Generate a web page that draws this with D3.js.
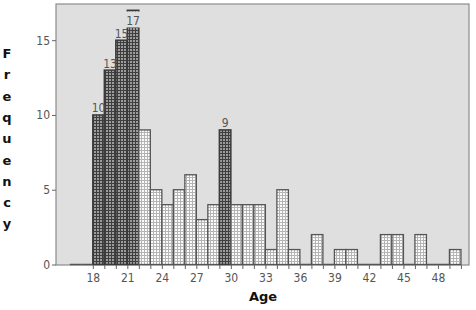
<!DOCTYPE html>
<html>
<head>
<meta charset="utf-8">
<script src="https://cdn.jsdelivr.net/npm/d3@7"></script>
<style>
  body { margin: 0; background: #fff; }
  svg { display: block; }
</style>
</head>
<body>
<div id="chart"></div>
<script>
// histogram of ages, one bin per year
var ages   = [16,17,18,19,20,21,22,23,24,25,26,27,28,29,30,31,32,33,34,35,36,37,38,39,40,41,42,43,44,45,46,47,48,49];
var counts = [ 0, 0,10,13,15,17, 9, 5, 4, 5, 6, 3, 4, 9, 4, 4, 4, 1, 5, 1, 0, 2, 0, 1, 1, 0, 0, 2, 2, 0, 2, 0, 0, 1];
var highlighted = [18,19,20,21,29];
var xTickLabels = [18,21,24,27,30,33,36,39,42,45,48];
var yTickLabels = [0,5,10,15];
var yTitle = "Frequency";
var xTitle = "Age";

var width = 476, height = 310;
var plot = {left: 56, right: 469, top: 4, bottom: 265};

var svg = d3.select("#chart").append("svg")
    .attr("width", width)
    .attr("height", height);

// hatch patterns
var defs = svg.append("defs");
function hatch(id, bg, line) {
  var p = defs.append("pattern")
      .attr("id", id)
      .attr("patternUnits", "userSpaceOnUse")
      .attr("width", 3).attr("height", 3);
  p.append("rect").attr("width", 3).attr("height", 3).attr("fill", bg);
  p.append("path").attr("d", "M0,0.5H3M0.5,0V3")
      .attr("stroke", line).attr("stroke-width", 1).attr("fill", "none");
}
hatch("darkHatch", "#9c9c9c", "#3e3e3e");
hatch("lightHatch", "#fbfbfb", "#b4b4b4");

var x = d3.scaleLinear()
    .domain([14.8, 50.7])
    .range([plot.left, plot.right]);

var y = d3.scaleLinear()
    .domain([0, 17.4])
    .range([264.5, 4.3]);

// plot background
svg.append("rect")
    .attr("x", plot.left).attr("y", plot.top)
    .attr("width", plot.right - plot.left)
    .attr("height", plot.bottom - plot.top)
    .attr("fill", "#dfdfdf")
    .attr("stroke", "#8c8c8c")
    .attr("stroke-width", 1.2);

var data = ages.map(function(a, i) { return {age: a, count: counts[i]}; });
function isHi(d) { return highlighted.indexOf(d.age) >= 0; }

// bars
svg.append("g").selectAll("rect")
  .data(data.filter(function(d) { return d.count > 0; }))
  .enter().append("rect")
    .attr("x", function(d) { return x(d.age); })
    .attr("y", function(d) { return y(d.count); })
    .attr("width", function(d) { return x(d.age + 1) - x(d.age); })
    .attr("height", function(d) { return y(0) - y(d.count); })
    .attr("fill", function(d) { return isHi(d) ? "url(#darkHatch)" : "url(#lightHatch)"; })
    .attr("stroke", function(d) { return isHi(d) ? "#3a3a3a" : "#555"; })
    .attr("stroke-width", function(d) { return isHi(d) ? 1.5 : 1.3; });

// empty bins are drawn as a flat line on the baseline
svg.append("g").selectAll("line")
  .data(data.filter(function(d) { return d.count === 0; }))
  .enter().append("line")
    .attr("x1", function(d) { return x(d.age); })
    .attr("x2", function(d) { return x(d.age + 1); })
    .attr("y1", y(0)).attr("y2", y(0))
    .attr("stroke", "#555")
    .attr("stroke-width", 1.5);

// data labels on the highlighted bars
var labelData = data.filter(isHi);
var labels = svg.append("g")
    .attr("font-family", "'DejaVu Sans Condensed', 'DejaVu Sans', sans-serif")
    .attr("font-stretch", "condensed")
    .attr("font-size", 12)
    .attr("fill", "#555");
labelData.forEach(function(d) {
  var cx = (x(d.age) + x(d.age + 1)) / 2;
  var top = y(d.count);
  if (top - 16 < plot.top) {
    // no room above: label sits inside the bar on a background box
    labels.append("rect")
        .attr("x", cx - 7.5).attr("y", top + 1.2)
        .attr("width", 15).attr("height", 16)
        .attr("fill", "#dfdfdf");
    labels.append("text")
        .attr("x", cx).attr("y", top + 14.8)
        .attr("text-anchor", "middle")
        .text(d.count);
  } else {
    labels.append("text")
        .attr("x", cx).attr("y", top - 2.5)
        .attr("text-anchor", "middle")
        .text(d.count);
  }
});

// x axis
var xAxis = svg.append("g")
    .attr("transform", "translate(0," + plot.bottom + ")")
    .call(d3.axisBottom(x)
      .tickValues(d3.range(18, 51))
      .tickSize(4)
      .tickPadding(4)
      .tickFormat(function(d) { return xTickLabels.indexOf(d) >= 0 ? d : ""; }));
xAxis.select(".domain").remove();
xAxis.selectAll(".tick line").attr("stroke", "#666");
xAxis.selectAll(".tick text")
    .attr("font-family", "'DejaVu Sans Condensed', 'DejaVu Sans', sans-serif")
    .attr("font-stretch", "condensed")
    .attr("font-size", 12)
    .attr("fill", "#555");

// y axis
var yAxis = svg.append("g")
    .attr("transform", "translate(" + plot.left + ",0)")
    .call(d3.axisLeft(y)
      .tickValues(yTickLabels)
      .tickSize(4)
      .tickPadding(2));
yAxis.select(".domain").remove();
yAxis.selectAll(".tick line").attr("stroke", "#666");
yAxis.selectAll(".tick text")
    .attr("font-family", "'DejaVu Sans Condensed', 'DejaVu Sans', sans-serif")
    .attr("font-stretch", "condensed")
    .attr("font-size", 12)
    .attr("fill", "#555");

// titles
svg.append("text")
    .attr("x", 263).attr("y", 301)
    .attr("text-anchor", "middle")
    .attr("font-family", "'DejaVu Sans', Verdana, sans-serif")
    .attr("font-weight", "bold")
    .attr("font-size", 13)
    .attr("fill", "#111")
    .text(xTitle);

var yt = svg.append("text")
    .attr("text-anchor", "middle")
    .attr("font-family", "'DejaVu Sans', Verdana, sans-serif")
    .attr("font-weight", "bold")
    .attr("font-size", 13)
    .attr("fill", "#111");
yTitle.split("").forEach(function(ch, i) {
  yt.append("tspan")
      .attr("x", 7)
      .attr("y", 58 + i * 21.3)
      .text(ch);
});
</script>
</body>
</html>
